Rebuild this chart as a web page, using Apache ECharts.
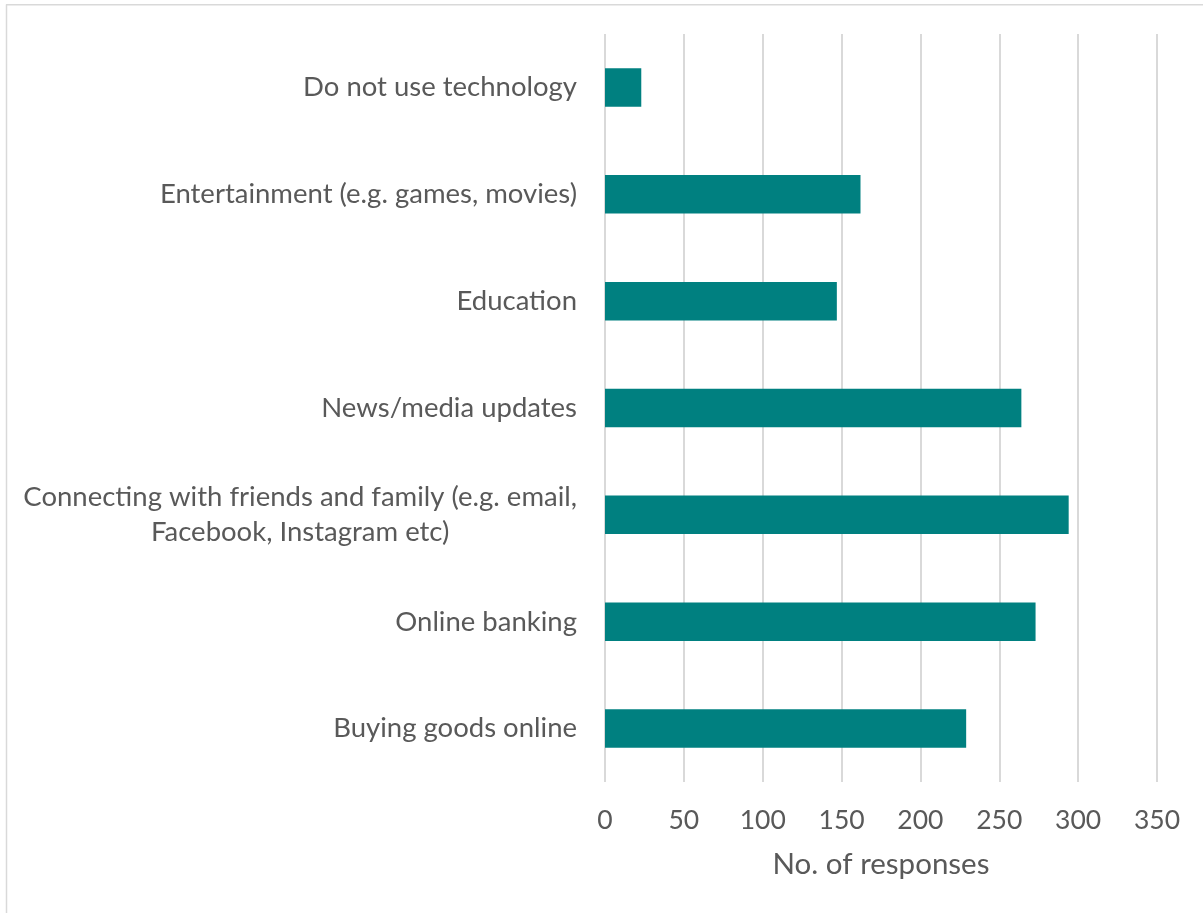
<!DOCTYPE html>
<html>
<head>
<meta charset="utf-8">
<title>Technology use</title>
<script src="https://cdn.jsdelivr.net/npm/echarts@6/dist/echarts.min.js"></script>
<style>
  html, body { margin: 0; padding: 0; background: #ffffff; }
  #chart { width: 1203px; height: 913px; }
</style>
</head>
<body>
<div id="chart"></div>
<script>
// Survey answers, listed top to bottom
const categories = [
  'Do not use technology',
  'Entertainment (e.g. games, movies)',
  'Education',
  'News/media updates',
  'Connecting with friends and family (e.g. email,\nFacebook, Instagram etc)',
  'Online banking',
  'Buying goods online'
];
const responses = [23, 162, 147, 264, 294, 273, 229];
const xTicks = { min: 0, max: 350, interval: 50 };
const xAxisTitle = 'No. of responses';

const textColor = '#595959';
const fontFamily = 'Lato, "Open Sans", sans-serif';
const gridColor = '#d9d9d9';

const chart = echarts.init(document.getElementById('chart'), null, { renderer: 'canvas' });

chart.setOption({
  backgroundColor: '#ffffff',
  animation: false,
  grid: { left: 605, right: 46, top: 34, bottom: 131, containLabel: false },
  xAxis: {
    type: 'value',
    min: xTicks.min,
    max: xTicks.max,
    interval: xTicks.interval,
    axisLine: { show: false },
    axisTick: { show: false },
    splitLine: { show: true, lineStyle: { color: gridColor, width: 2 } },
    axisLabel: { color: textColor, fontFamily: fontFamily, fontSize: 26.5, margin: 25 },
    name: xAxisTitle,
    nameLocation: 'middle',
    nameGap: 67,
    nameTextStyle: { color: textColor, fontFamily: fontFamily, fontSize: 29.5 }
  },
  yAxis: {
    type: 'category',
    data: categories,
    inverse: true,
    axisLine: { show: false },
    axisTick: { show: false },
    splitLine: { show: false },
    axisLabel: {
      margin: 28,
      color: textColor,
      fontFamily: fontFamily,
      fontSize: 27.5,
      lineHeight: 35,
      // each line is centred inside the label block
      formatter: function (value) {
        return value.split('\n').map(function (s) { return '{c|' + s + '}'; }).join('\n');
      },
      rich: {
        c: { align: 'center', color: textColor, fontFamily: fontFamily, fontSize: 27.5, lineHeight: 35 }
      }
    }
  },
  series: [{
    type: 'bar',
    data: responses,
    barCategoryGap: '64%',
    itemStyle: { color: '#008080' },
    silent: true
  }],
  graphic: [
    { type: 'line', shape: { x1: 6.5, y1: 4.5, x2: 6.5, y2: 913 }, style: { stroke: gridColor, lineWidth: 1.5 }, silent: true },
    { type: 'line', shape: { x1: 6, y1: 4.8, x2: 1203, y2: 4.8 }, style: { stroke: gridColor, lineWidth: 1.5 }, silent: true }
  ]
});
</script>
</body>
</html>
